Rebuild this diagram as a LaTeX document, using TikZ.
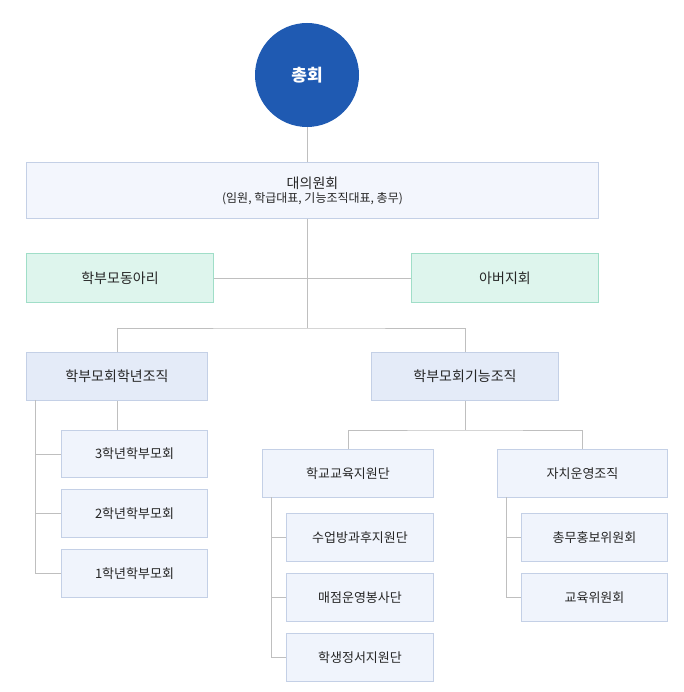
\documentclass[tikz,border=0pt]{standalone}
\usepackage{fontspec}
\setmainfont{Noto Sans CJK KR}
\definecolor{b0}{RGB}{243,246,253}
\definecolor{b1}{RGB}{228,235,248}
\definecolor{b2}{RGB}{240,244,252}
\definecolor{bd}{RGB}{196,208,230}
\definecolor{mf}{RGB}{222,245,237}
\definecolor{md}{RGB}{160,222,200}
\begin{document}
\begin{tikzpicture}[x=1pt,y=-1pt,
  bx/.style={draw=#1,line width=1pt,anchor=north west,inner sep=0pt,font=\fontsize{14}{16}\selectfont,text=black!85},
  lvl0/.style={bx=bd,fill=b0},
  mint/.style={bx=md,fill=mf},
  lvl1/.style={bx=bd,fill=b1},
  lvl2/.style={bx=bd,fill=b2,font=\fontsize{13}{15}\selectfont},
  ln/.style={draw=gray!50,line width=0.8pt}]
\useasboundingbox (0,0) rectangle (683,692);
\node[circle,fill={rgb,255:red,31;green,90;blue,178},minimum size=104pt,text=white,font=\fontsize{17}{20}\selectfont\bfseries] (c) at (307,75) {총회};
\node[lvl0,minimum width=572pt,minimum height=56pt,align=center] (d) at (26,162) {대의원회\\[-2pt]{\fontsize{12}{14}\selectfont (임원, 학급대표, 기능조직대표, 총무)}};
\node[mint,minimum width=187pt,minimum height=49pt] (m1) at (26,253) {학부모동아리};
\node[mint,minimum width=187pt,minimum height=49pt] (m2) at (411,253) {아버지회};
\node[lvl1,minimum width=181pt,minimum height=48pt] (L) at (26,352) {학부모회학년조직};
\node[lvl1,minimum width=187pt,minimum height=48pt] (R) at (371,352) {학부모회기능조직};
\node[lvl2,minimum width=146pt,minimum height=47pt] (g3) at (61,430) {3학년학부모회};
\node[lvl2,minimum width=146pt,minimum height=48pt] (g2) at (61,489) {2학년학부모회};
\node[lvl2,minimum width=146pt,minimum height=48pt] (g1) at (61,549) {1학년학부모회};
\node[lvl2,minimum width=171pt,minimum height=48pt] (s) at (262,449) {학교교육지원단};
\node[lvl2,minimum width=170pt,minimum height=48pt] (a) at (497,449) {자치운영조직};
\node[lvl2,minimum width=147pt,minimum height=48pt] (s1) at (286,513) {수업방과후지원단};
\node[lvl2,minimum width=147pt,minimum height=48pt] (s2) at (286,573) {매점운영봉사단};
\node[lvl2,minimum width=147pt,minimum height=48pt] (s3) at (286,633) {학생정서지원단};
\node[lvl2,minimum width=146pt,minimum height=48pt] (a1) at (521,513) {총무홍보위원회};
\node[lvl2,minimum width=146pt,minimum height=48pt] (a2) at (521,573) {교육위원회};
\coordinate (j) at (307,328);
\draw[ln] (c.south) -- (c.south |- d.north);
\draw[ln] (m1.east) -- (m2.west);
\draw[ln] (c.south |- d.south) -- (j);
\draw[ln] (L.north) |- (j) -| (R.north);
\draw[ln] (L.south) -- (g3.north -| L.south);
\draw[ln] (35,400) |- (g1.west);
\draw[ln] (35,0|-g3.west) -- (g3.west);
\draw[ln] (35,0|-g2.west) -- (g2.west);
\draw[ln] (R.south) -- (465,430);
\draw[ln] (s.north) |- (465,430) -| (a.north);
\draw[ln] (271,497) |- (s3.west);
\draw[ln] (271,0|-s1.west) -- (s1.west);
\draw[ln] (271,0|-s2.west) -- (s2.west);
\draw[ln] (506,497) |- (a2.west);
\draw[ln] (506,0|-a1.west) -- (a1.west);
\end{tikzpicture}
\end{document}
